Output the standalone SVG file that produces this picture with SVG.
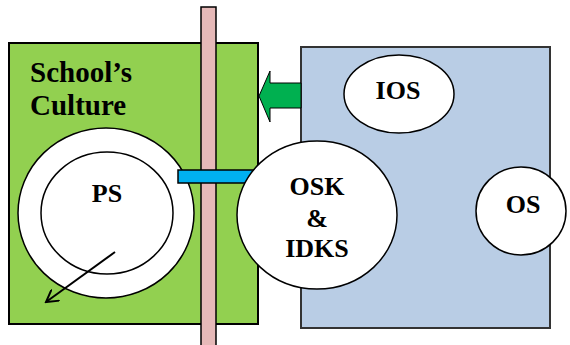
<svg xmlns="http://www.w3.org/2000/svg" width="570" height="345" viewBox="0 0 570 345">
<style>
.t{font-family:"Liberation Serif","Times New Roman",serif;font-weight:bold;font-size:26px;fill:#000;text-anchor:middle}
.h{font-size:29px;text-anchor:start}
.w{fill:#fff;stroke:#000;stroke-width:1.5}
</style>
<defs>
<marker id="ah" markerWidth="14" markerHeight="14" refX="12" refY="7" orient="auto" markerUnits="userSpaceOnUse">
<polyline points="0,0 12,7 0,14" fill="none" stroke="#000" stroke-width="2"/>
</marker>
</defs>
<rect width="570" height="345" fill="#fff"/>
<g id="school">
<rect x="9" y="43" width="249" height="281" fill="#92D050" stroke="#000" stroke-width="2"/>
<text class="t h" x="30" y="82">School’s</text>
<text class="t h" x="30" y="115">Culture</text>
</g>
<g id="outside">
<rect x="301" y="47" width="249" height="281" fill="#B9CDE5" stroke="#333" stroke-width="2"/>
</g>
<g id="ps-outer"><ellipse class="w" cx="106" cy="213" rx="88" ry="85"/></g>
<g id="ps"><ellipse class="w" cx="107" cy="213" rx="66" ry="61"/><text class="t" x="107" y="202">PS</text></g>
<g id="barrier"><rect x="201" y="7" width="15" height="345" fill="#E6B9B8" stroke="#000" stroke-width="1.5"/></g>
<g id="bridge"><rect x="178" y="170" width="76" height="13" fill="#00B0F0" stroke="#000" stroke-width="1.5"/></g>
<g id="ios"><ellipse class="w" cx="399" cy="94" rx="55" ry="39"/><text class="t" x="398" y="99">IOS</text></g>
<g id="osk"><ellipse class="w" cx="317" cy="215" rx="80" ry="74"/>
<text class="t" x="317" y="195">OSK</text><text class="t" x="317" y="227">&amp;</text><text class="t" x="317" y="257">IDKS</text></g>
<g id="os"><ellipse class="w" cx="521" cy="211" rx="45" ry="44"/><text class="t" x="523" y="213">OS</text></g>
<g id="connectors">
<polygon points="259,96 270,71 270,83 301,83 301,108 270,108 270,122" fill="#00B050" stroke="#000" stroke-width="1"/>
<line x1="115" y1="252" x2="46" y2="302" stroke="#000" stroke-width="2" marker-end="url(#ah)"/>
</g>
</svg>
